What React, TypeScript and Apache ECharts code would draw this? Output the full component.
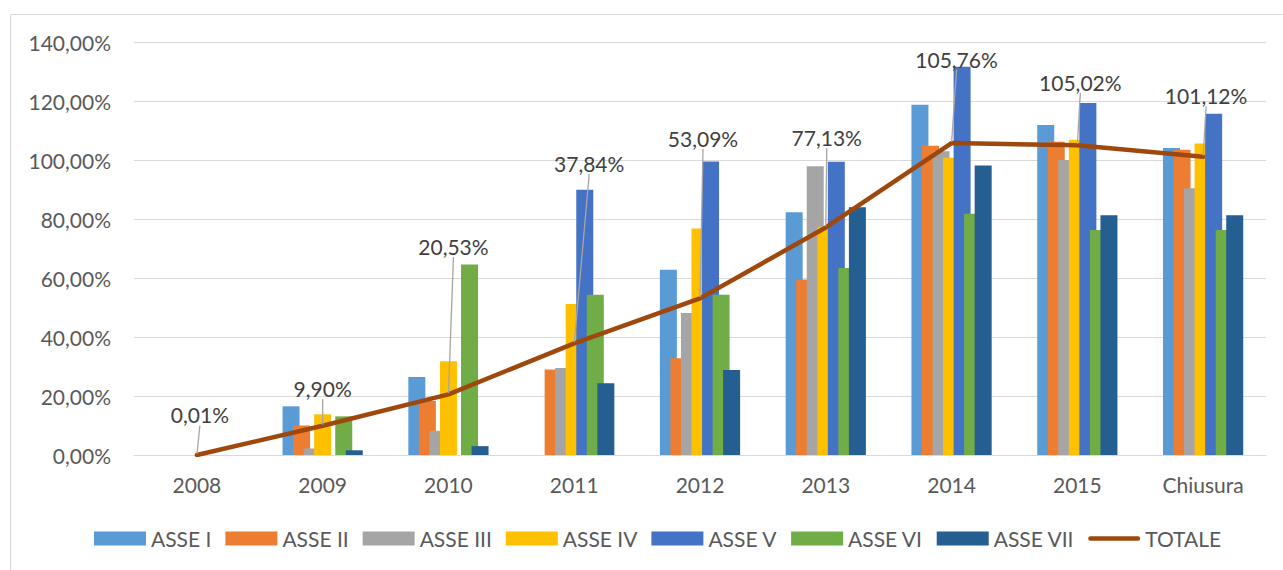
import React, { useEffect, useRef } from "react";
import * as echarts from "echarts";

const categories = ["2008", "2009", "2010", "2011", "2012", "2013", "2014", "2015", "Chiusura"];
const asse1 = [0, 16.5, 26.4, 0, 62.8, 82.3, 118.7, 111.9, 104.1];
const asse2 = [0, 10.0, 18.3, 29.0, 32.8, 59.5, 104.8, 106.2, 103.5];
const asse3 = [0, 2.2, 8.2, 29.5, 48.1, 97.9, 103.0, 100.0, 90.4];
const asse4 = [0, 13.8, 31.8, 51.2, 76.8, 77.4, 100.8, 106.9, 105.6];
const asse5 = [0, 0, 0, 89.9, 99.5, 99.4, 131.6, 119.3, 115.7];
const asse6 = [0, 13.1, 64.6, 54.3, 54.3, 63.4, 81.8, 76.3, 76.3];
const asse7 = [0, 1.6, 3.0, 24.3, 28.8, 84.0, 98.1, 81.3, 81.3];
const totale = [0.01, 9.9, 20.53, 37.84, 53.09, 77.13, 105.76, 105.02, 101.12];

const seriesNames = ["ASSE I", "ASSE II", "ASSE III", "ASSE IV", "ASSE V", "ASSE VI", "ASSE VII"];
const seriesValues = [asse1, asse2, asse3, asse4, asse5, asse6, asse7];
const colors = ["#5b9bd5", "#ed7d31", "#a5a5a5", "#ffc000", "#4472c4", "#70ad47", "#255e91"];
const lineColor = "#9e480e";

// label placement offsets (style only)
const labelDx = [3, 0, 5, 15, 3, 1, 5, 3, 3];
const labelDy = [-40, -37, -148, -180, -160, -90, -84, -63, -61];

const FONT = "Lato";
const FS = 21;
const fmt = (v: number) => v.toFixed(2).replace(".", ",") + "%";

export default function App() {
  const ref = useRef<HTMLDivElement>(null);
  useEffect(() => {
    if (!ref.current) return;
    const chart = echarts.init(ref.current, undefined, { renderer: "svg" });
    const barSeries = seriesNames.map((name, i) => ({
      name,
      type: "bar",
      data: seriesValues[i],
      barWidth: 17,
      barGap: "-38%",
      itemStyle: { color: colors[i] },
      emphasis: { disabled: true },
    }));
    chart.setOption({
      animation: false,
      textStyle: { fontFamily: FONT },
      graphic: [
        {
          type: "rect",
          shape: { x: 10.5, y: 14.5, width: 1300, height: 600 },
          style: { fill: "none", stroke: "#d9d9d9", lineWidth: 1 },
          silent: true,
        },
      ],
      grid: { left: 134, right: 17, top: 42, bottom: 115 },
      xAxis: {
        type: "category",
        data: categories,
        axisLine: { lineStyle: { color: "#d9d9d9", width: 1 } },
        axisTick: { show: false },
        axisLabel: { color: "#595959", fontSize: FS, fontFamily: FONT, margin: 19 },
      },
      yAxis: {
        type: "value",
        min: 0,
        max: 140,
        interval: 20,
        axisLine: { show: false },
        axisTick: { show: false },
        splitLine: { lineStyle: { color: "#d9d9d9", width: 1 } },
        axisLabel: {
          color: "#595959",
          fontSize: FS,
          fontFamily: FONT,
          margin: 23,
          formatter: (v: number) => fmt(v),
        },
      },
      legend: {
        left: 89,
        top: 523,
        itemWidth: 52,
        itemHeight: 14,
        itemGap: 14,
        textStyle: { color: "#595959", fontSize: FS, fontFamily: FONT },
        data: [
          ...seriesNames.map((n) => ({ name: n, icon: "rect" })),
          { name: "TOTALE", icon: "path://M0,0M52,14M2,4.75L50,4.75A2.25,2.25,0,0,1,50,9.25L2,9.25A2.25,2.25,0,0,1,2,4.75Z" },
        ],
        selectedMode: false,
      },
      series: [
        ...barSeries,
        {
          name: "TOTALE",
          type: "line",
          data: totale,
          symbol: "circle",
          symbolSize: 2,
          itemStyle: { color: lineColor },
          lineStyle: { color: lineColor, width: 4.5, cap: "round", join: "round" },
          z: 5,
          emphasis: { disabled: true },
          label: {
            show: true,
            position: "inside",
            color: "#404040",
            fontSize: FS,
            fontFamily: FONT,
            formatter: (p: any) => fmt(p.value),
          },
          labelLayout: (p: any) => ({ dx: labelDx[p.dataIndex], dy: labelDy[p.dataIndex] }),
          labelLine: { show: true, lineStyle: { color: "#a6a6a6", width: 1.3 } },
        },
      ],
    });
    return () => chart.dispose();
  }, []);
  return (
    <div
      ref={ref}
      style={{ position: "absolute", left: 0, top: 0, width: 1283, height: 570, background: "#fff" }}
    />
  );
}
